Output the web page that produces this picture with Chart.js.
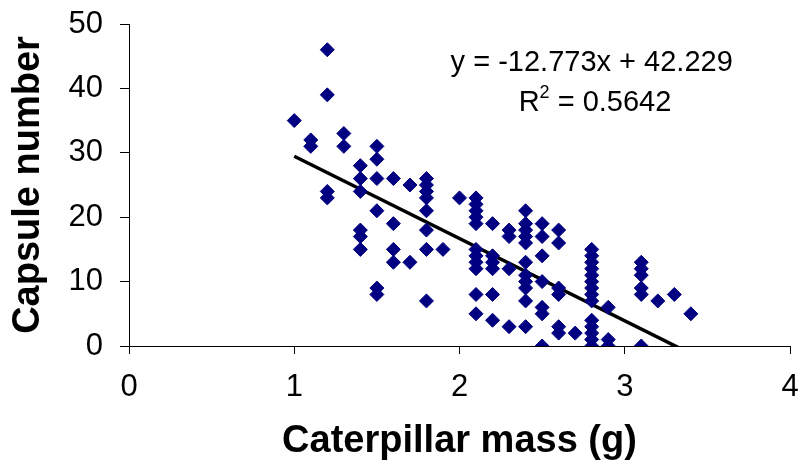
<!DOCTYPE html>
<html>
<head>
<meta charset="utf-8">
<script src="https://cdn.jsdelivr.net/npm/chart.js@4.4.0/dist/chart.umd.min.js"></script>
<style>
  body { margin: 0; background: #fff; }
  #wrap { width: 798px; height: 467px; position: relative; }
</style>
</head>
<body>
<div id="wrap"><canvas id="massChart"></canvas></div>
<script>
// --- Data ---
const massG = [
  1.0,
  1.1, 1.1,
  1.2, 1.2, 1.2, 1.2,
  1.3, 1.3,
  1.4, 1.4, 1.4, 1.4, 1.4, 1.4,
  1.5, 1.5, 1.5, 1.5, 1.5, 1.5,
  1.6, 1.6, 1.6, 1.6,
  1.7, 1.7,
  1.8, 1.8, 1.8, 1.8, 1.8, 1.8, 1.8, 1.8,
  1.9,
  2.0,
  2.1, 2.1, 2.1, 2.1, 2.1, 2.1, 2.1, 2.1, 2.1, 2.1, 2.1,
  2.2, 2.2, 2.2, 2.2, 2.2, 2.2,
  2.3, 2.3, 2.3, 2.3,
  2.4, 2.4, 2.4, 2.4, 2.4, 2.4, 2.4, 2.4, 2.4, 2.4, 2.4,
  2.5, 2.5, 2.5, 2.5, 2.5, 2.5, 2.5,
  2.6, 2.6, 2.6, 2.6, 2.6, 2.6,
  2.7,
  2.8, 2.8, 2.8, 2.8, 2.8, 2.8, 2.8, 2.8, 2.8, 2.8, 2.8, 2.8, 2.8, 2.8,
  2.9, 2.9, 2.9,
  3.1, 3.1, 3.1, 3.1, 3.1, 3.1,
  3.2,
  3.3,
  3.4
];
const capsules = [
  35,
  32, 31,
  46, 39, 24, 23,
  33, 31,
  28, 26, 24, 18, 17, 15,
  31, 29, 26, 21, 9, 8,
  26, 19, 15, 13,
  25, 13,
  26, 25, 24, 23, 21, 18, 15, 7,
  15,
  23,
  23, 22, 21, 20, 19, 15, 14, 13, 12, 8, 5,
  19, 14, 13, 12, 8, 4,
  18, 17, 12, 3,
  21, 19, 18, 17, 16, 13, 11, 10, 9, 7, 3,
  19, 17, 14, 10, 6, 5, 0,
  18, 16, 9, 8, 3, 2,
  2,
  15, 14, 13, 12, 11, 10, 9, 8, 7, 4, 3, 2, 1, 0,
  6, 1, 0,
  13, 12, 11, 9, 8, 0,
  7,
  8,
  5
];
const xTicks = [0, 1, 2, 3, 4];
const yTicks = [0, 10, 20, 30, 40, 50];

// linear trend line as reported on the chart
const slope = -12.773;
const intercept = 42.229;
const rSquared = 0.5642;

const points = massG.map((m, i) => ({ x: m, y: capsules[i] }));
const xMin = Math.min(...massG);
const xMax = Math.max(...massG);
const trend = [xMin, xMax].map(m => ({ x: m, y: slope * m + intercept }));

const FONT = '"Liberation Sans", Arial, sans-serif';

// --- Equation text (R with a raised small 2) ---
const equationLabel = {
  id: 'equationLabel',
  afterDatasetsDraw(chart) {
    const { ctx, scales: { x, y } } = chart;
    ctx.save();
    ctx.fillStyle = '#000';
    ctx.font = '29px ' + FONT;
    ctx.textBaseline = 'middle';
    ctx.textAlign = 'center';
    ctx.fillText('y = ' + slope + 'x + ' + intercept, x.getPixelForValue(2.8), y.getPixelForValue(44));

    const rest = ' = ' + rSquared;
    const wR = ctx.measureText('R').width;
    const wRest = ctx.measureText(rest).width;
    ctx.font = '18px ' + FONT;
    const w2 = ctx.measureText('2').width;
    const cx = x.getPixelForValue(2.82);
    const cy = y.getPixelForValue(37.7);
    let left = cx - (wR + w2 + wRest) / 2;
    ctx.textAlign = 'left';
    ctx.font = '29px ' + FONT;
    ctx.fillText('R', left, cy);
    ctx.font = '18px ' + FONT;
    ctx.fillText('2', left + wR, cy - 10);
    ctx.font = '29px ' + FONT;
    ctx.fillText(rest, left + wR + w2, cy);
    ctx.restore();
  }
};

new Chart(document.getElementById('massChart'), {
  type: 'scatter',
  data: {
    datasets: [
      {
        label: 'Capsules',
        data: points,
        pointStyle: 'rectRot',
        pointRadius: 7,
        pointHoverRadius: 7,
        backgroundColor: '#000080',
        borderColor: '#000080',
        borderWidth: 1
      },
      {
        label: 'Linear',
        type: 'line',
        data: trend,
        showLine: true,
        borderColor: '#000',
        borderWidth: 3.5,
        pointRadius: 0,
        tension: 0,
        fill: false
      }
    ]
  },
  options: {
    responsive: true,
    maintainAspectRatio: false,
    animation: false,
    layout: { padding: { left: 0, top: 24, right: 6, bottom: 0 } },
    plugins: { legend: { display: false }, tooltip: { enabled: false } },
    scales: {
      x: {
        type: 'linear',
        min: 0,
        max: 4,
        afterBuildTicks: (scale) => { scale.ticks = xTicks.map(v => ({ value: v })); },
        afterFit: (scale) => { scale.height = 467 - 346; scale.paddingLeft = 0; scale.paddingRight = 0; },
        ticks: { color: '#000', font: { family: FONT, size: 31 }, padding: 15 },
        grid: { drawOnChartArea: false, drawTicks: true, tickLength: 8, color: '#000' },
        border: { display: true, color: '#000', width: 1 },
        title: {
          display: true,
          text: 'Caterpillar mass (g)',
          color: '#000',
          font: { family: FONT, size: 38, weight: 'bold' },
          padding: { top: 0, bottom: 3 }
        }
      },
      y: {
        min: 0,
        max: 50,
        afterBuildTicks: (scale) => { scale.ticks = yTicks.map(v => ({ value: v })); },
        afterFit: (scale) => { scale.width = 129; scale.paddingTop = 0; scale.paddingBottom = 0; },
        ticks: { color: '#000', font: { family: FONT, size: 31 }, padding: 17 },
        grid: { drawOnChartArea: false, drawTicks: true, tickLength: 9, color: '#000' },
        border: { display: true, color: '#000', width: 1 },
        title: {
          display: true,
          text: 'Capsule number',
          color: '#000',
          font: { family: FONT, size: 38, weight: 'bold' },
          padding: { top: 6, bottom: 0 }
        }
      }
    }
  },
  plugins: [equationLabel]
});
</script>
</body>
</html>
